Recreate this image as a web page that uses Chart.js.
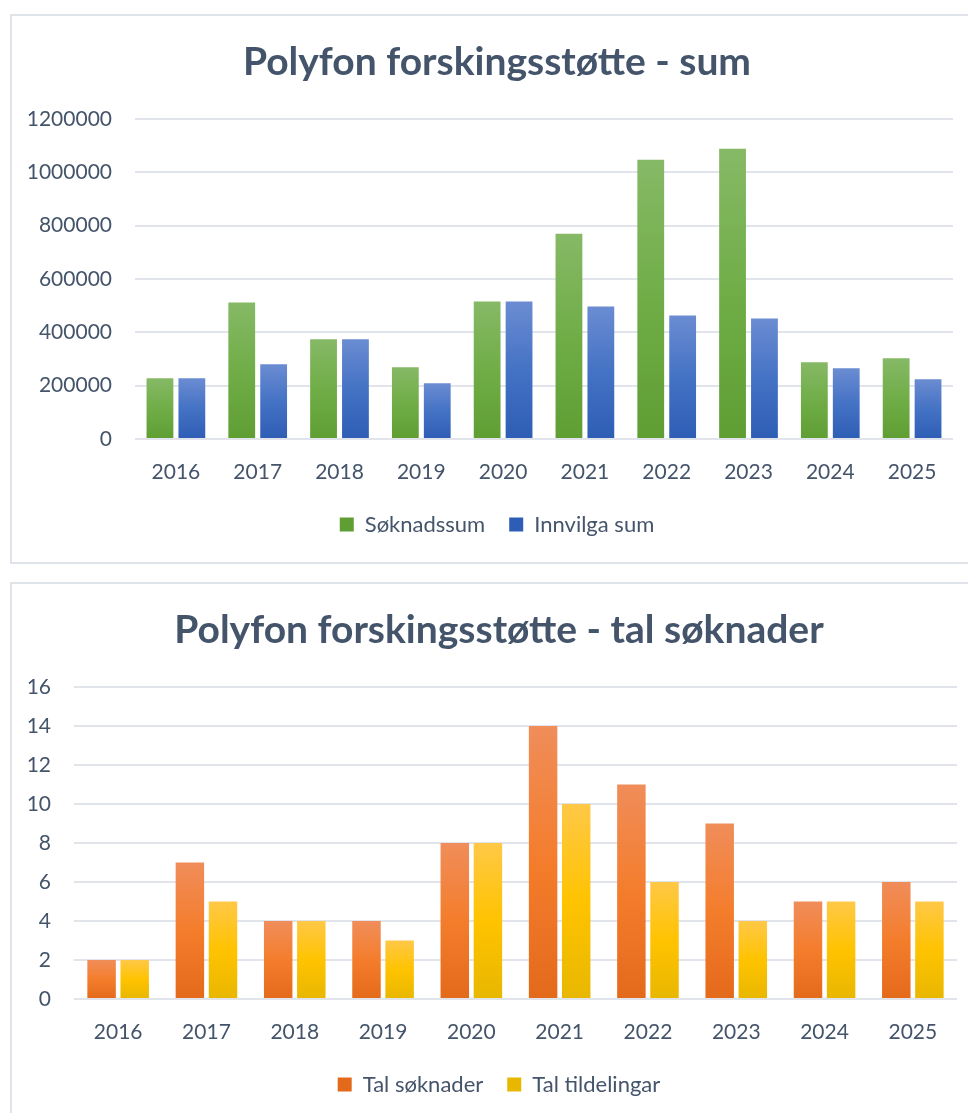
<!DOCTYPE html>
<html lang="nn">
<head>
<meta charset="utf-8">
<title>Polyfon forskingsstøtte</title>
<script src="https://cdn.jsdelivr.net/npm/chart.js@4.4.1/dist/chart.umd.min.js"></script>
<style>
    html, body { margin: 0; padding: 0; background: #fff; overflow: hidden; }
    body { width: 968px; height: 1113px; position: relative; }
    .card {
        position: absolute; left: 10px; width: 980px;
        border: 2px solid #dfe3ea; background: #fff;
    }
    .wrap { position: relative; width: 974px; }
</style>
</head>
<body>
<div class="card" style="top:14px; height:546px;">
    <div class="wrap" style="height:546px;"><canvas id="sumChart"></canvas></div>
</div>
<div class="card" style="top:582px; height:538px;">
    <div class="wrap" style="height:538px;"><canvas id="countChart"></canvas></div>
</div>
<script>
// ── Data ──────────────────────────────────────
const years = ['2016', '2017', '2018', '2019', '2020', '2021', '2022', '2023', '2024', '2025'];

const soknadssum  = [228000, 512000, 374000, 269000, 516000, 770000, 1047000, 1088000, 288000, 303000];
const innvilgaSum = [228000, 280000, 374000, 209000, 516000, 497000,  463000,  452000, 265000, 224000];

const talSoknader    = [2, 7, 4, 4, 8, 14, 11, 9, 5, 6];
const talTildelingar = [2, 5, 4, 3, 8, 10,  6, 4, 5, 5];

const sumAxis   = { max: 1200000, step: 200000 };
const countAxis = { max: 16, step: 2 };

// ── Style ─────────────────────────────────────
const TEXT = '#44546A';
const GRID = '#e1e5eb';
const FONT = 'Lato, "Open Sans", sans-serif';

// Per-bar vertical gradient (light top -> dark bottom), like Office charts
function barFill(light, mid, dark) {
    return ctx => {
        if (ctx.type !== 'data') return mid;
        const chart = ctx.chart;
        const y = chart.scales.y;
        if (!chart.chartArea || !y) return mid;
        const top  = y.getPixelForValue(ctx.raw);
        const base = y.getPixelForValue(0);
        if (!isFinite(top) || base - top < 1) return mid;
        const g = chart.ctx.createLinearGradient(0, top, 0, base);
        g.addColorStop(0, light);
        g.addColorStop(0.5, mid);
        g.addColorStop(1, dark);
        return g;
    };
}

// Title and legend sit a little right of the canvas centre in the original
const shiftBlocks = {
    id: 'shiftBlocks',
    afterLayout(chart) {
        [chart.titleBlock, chart.legend].forEach(b => {
            if (b) { b.left += 14.5; b.right += 14.5; }
        });
    }
};

function makeChart(id, cfg) {
    return new Chart(document.getElementById(id), {
        type: 'bar',
        data: {
            labels: years,
            datasets: cfg.datasets.map(d => ({
                label: d.label,
                data: d.data,
                backgroundColor: barFill(...d.colors),
                borderWidth: 0,
                categoryPercentage: cfg.catPct,
                barPercentage: cfg.barPct
            }))
        },
        plugins: [shiftBlocks],
        options: {
            responsive: true,
            maintainAspectRatio: false,
            animation: false,
            layout: { padding: { left: 0, right: cfg.padRight, top: 0, bottom: 16.5 } },
            plugins: {
                title: {
                    display: true,
                    text: cfg.title,
                    color: TEXT,
                    font: { family: FONT, size: 39, weight: 'bold', lineHeight: 1.2 },
                    padding: { top: 23, bottom: 33.2 }
                },
                legend: {
                    position: 'bottom',
                    labels: {
                        color: TEXT,
                        font: { family: FONT, size: 22 },
                        boxWidth: 14, boxHeight: 14,
                        padding: 24
                    }
                },
                tooltip: { enabled: false }
            },
            scales: {
                x: {
                    grid: { display: false },
                    border: { display: false },
                    ticks: { color: TEXT, font: { family: FONT, size: 21 }, padding: 13, maxRotation: 0 },
                    afterFit: s => { s.height = 50.5; }
                },
                y: {
                    min: 0, max: cfg.axis.max,
                    grid: { color: GRID, lineWidth: 2, drawTicks: false },
                    border: { display: false },
                    ticks: {
                        stepSize: cfg.axis.step,
                        color: TEXT, font: { family: FONT, size: 21 }, padding: 23,
                        callback: v => String(v)
                    },
                    afterFit: s => { s.width = cfg.axisWidth; }
                }
            }
        }
    });
}

makeChart('sumChart', {
    title: 'Polyfon forskingsstøtte - sum',
    axis: sumAxis,
    axisWidth: 123, padRight: 33,
    catPct: 0.78, barPct: 0.84,
    datasets: [
        { label: 'Søknadssum',  data: soknadssum,  colors: ['#86b966', '#70ad47', '#5f9e33'] },
        { label: 'Innvilga sum', data: innvilgaSum, colors: ['#6b8cd2', '#4472c4', '#2e5db5'] }
    ]
});

makeChart('countChart', {
    title: 'Polyfon forskingsstøtte - tal søknader',
    axis: countAxis,
    axisWidth: 62, padRight: 29,
    catPct: 0.75, barPct: 0.86,
    datasets: [
        { label: 'Tal søknader',   data: talSoknader,    colors: ['#f08d5a', '#f47d2c', '#e36a1b'] },
        { label: 'Tal tildelingar', data: talTildelingar, colors: ['#ffc847', '#ffc300', '#e8b700'] }
    ]
});
</script>
</body>
</html>
